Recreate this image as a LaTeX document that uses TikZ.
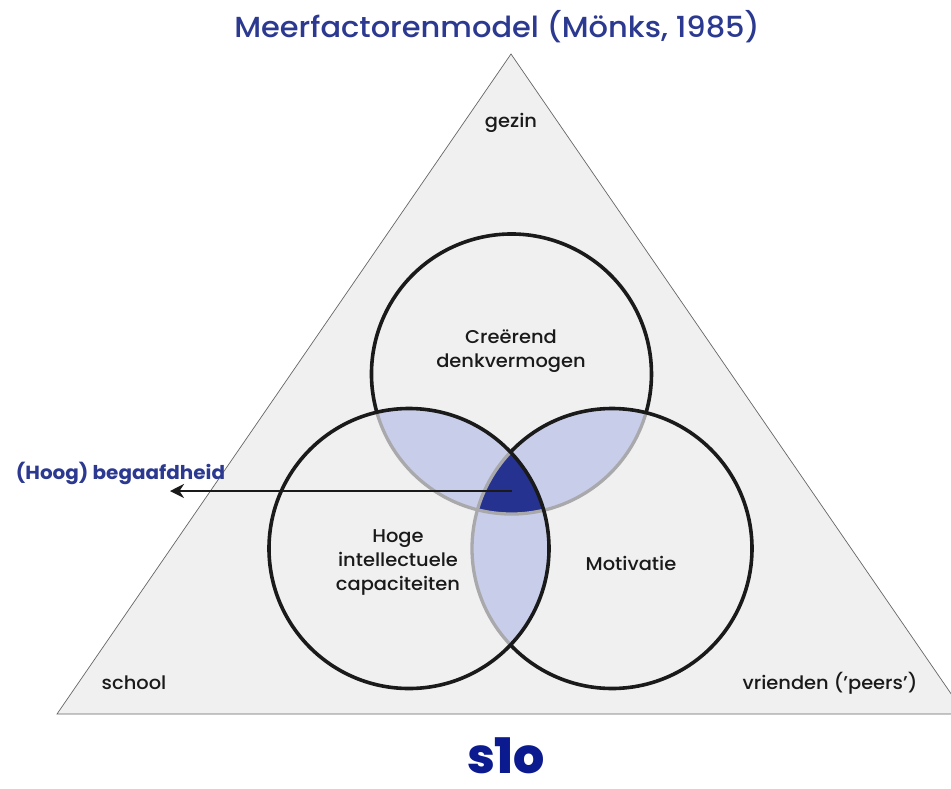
\documentclass[tikz,border=0pt]{standalone}
\usepackage{fontspec}
\setmainfont{Poppins}[FakeStretch=1.05]
\newfontfamily\medium{Poppins Medium}[FakeStretch=1.05]
\newfontfamily\zwaar{Poppins ExtraBold}
\usepackage{tikz}
\usetikzlibrary{arrows.meta}
\definecolor{vlak}{HTML}{F1F0F0}
\definecolor{licht}{HTML}{C8CDE9}
\definecolor{donker}{HTML}{25328F}
\definecolor{titel}{HTML}{2B3990}
\definecolor{logo}{HTML}{0B1A8E}
\definecolor{tekst}{HTML}{1A1A1A}
\definecolor{rand}{HTML}{A9A9AC}
\def\kr{140}
\tikzstyle{kring}=[draw=tekst, circle, line width=3.6pt, minimum size=280pt, inner sep=0pt, outer sep=0pt]
\tikzstyle{kringlijn}=[draw=tekst, line width=3.6pt]
\tikzstyle{grijsrand}=[draw=rand, line width=3.3pt]
\tikzstyle{label}=[text=tekst, font=\medium\fontsize{18.5}{24}\selectfont, align=center, inner sep=0pt]
\tikzstyle{hoek}=[draw=black!60, line width=0.7pt, fill=vlak]
\tikzstyle{pijl}=[-{Stealth[length=14pt,width=14pt]}, line width=2.2pt, draw=tekst]

\begin{document}
\begin{tikzpicture}[x=1pt,y=-1pt]
\clip (0,0) rectangle (951,788);
\fill[white] (0,0) rectangle (951,788);
\coordinate (top) at (511,54);
\coordinate (links) at (57,714);
\coordinate (rechts) at (965,714);
\coordinate (mt) at (511.5,374);
\coordinate (ml) at (409,548.5);
\coordinate (mr) at (612,548.5);
\coordinate (pijlstart) at (512,491);
\coordinate (pijleind) at (170,491);
\draw[hoek] (top) -- (links) -- (rechts) -- cycle;
% overlaps
\begin{scope}
\clip (mt) circle (\kr);
\fill[licht] (ml) circle (\kr);
\fill[licht] (mr) circle (\kr);
\end{scope}
\begin{scope}
\clip (ml) circle (\kr);
\fill[licht] (mr) circle (\kr);
\clip (mr) circle (\kr);
\fill[donker] (mt) circle (\kr);
\end{scope}
% grey and black parts of the rings
\draw[grijsrand] (mt) ++(15.9:\kr) arc[start angle=15.9,end angle=164.1,radius=\kr];
\draw[grijsrand] (mr) ++(136.5:\kr) arc[start angle=136.5,end angle=223.5,radius=\kr];
\draw[kringlijn] (mt) ++(164.1:\kr) arc[start angle=164.1,end angle=375.9,radius=\kr];
\draw[kringlijn] (mr) ++(223.5:\kr) arc[start angle=223.5,end angle=496.5,radius=\kr];
\node[kring] (kl) at (ml) {};
\draw[pijl] (pijlstart) -- (pijleind);
\node[text=titel, font=\medium\fontsize{29}{32}\selectfont] (titelnode) at (497,27) {Meerfactorenmodel (Mönks, 1985)};
\node[label] (gezin) at (511,123) {gezin};
\node[label] (creerend) at (511,351.5) {Creërend\\denkvermogen};
\node[label] (hoge) at (398,562.5) {Hoge\\intellectuele\\capaciteiten};
\node[label] (motivatie) at (631,563) {Motivatie};
\node[label] (school) at (134,683) {school};
\node[label] (vrienden) at (830,683) {vrienden (’peers’)};
\node[text=titel, font=\fontsize{19}{20}\selectfont\bfseries, inner sep=0pt] (begaafd) at (120.5,473) {(Hoog) begaafdheid};
\node[text=logo, font=\zwaar\fontsize{49}{49}\selectfont, inner sep=0pt] (slo) at (506,756) {s1o};
\end{tikzpicture}
\end{document}
